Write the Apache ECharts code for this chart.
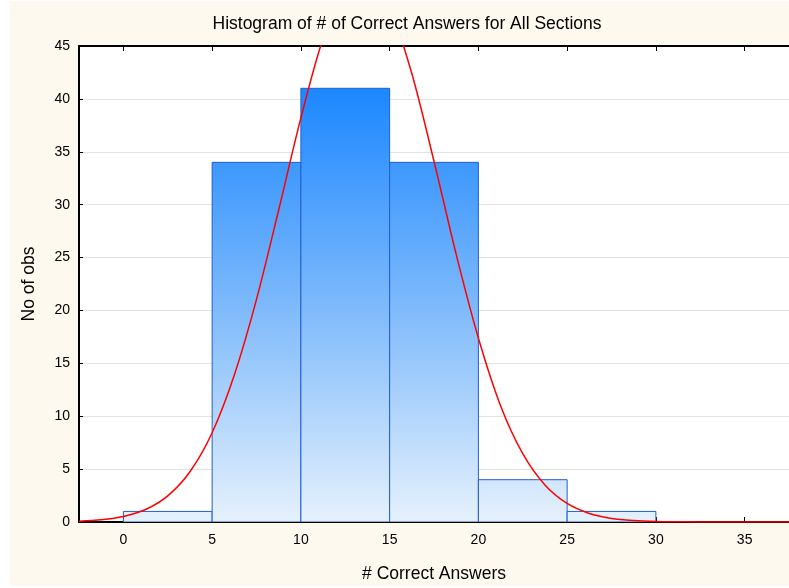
<!DOCTYPE html>
<html>
<head>
<meta charset="utf-8">
<script src="https://cdn.jsdelivr.net/npm/echarts@6/dist/echarts.min.js"></script>
<style>html,body{margin:0;padding:0;background:#fff;}#c{width:789px;height:588px;}</style>
</head>
<body>
<div id="c"></div>
<script>
// Histogram bins (lower edge, upper edge) and counts
var binStart = [0, 5, 10, 15, 20, 25, 30];
var binEnd   = [5, 10, 15, 20, 25, 30, 35];
var counts   = [1, 34, 41, 34, 4, 1, 0];

// Fitted normal curve
var curveX = [-2.5, -1.25, 0, 1.25, 2.5, 3.75, 5, 6.25, 7.5, 8.75, 10, 11.25, 12.5, 13.75, 15, 16.25, 17.5, 18.75, 20, 21.25, 22.5, 23.75, 25, 26.25, 27.5, 28.75, 30, 31.25, 32.5, 33.75, 35, 36.25, 37.5];
var curveY = [0.08, 0.21, 0.52, 1.18, 2.47, 4.75, 8.44, 13.9, 21.05, 29.5, 38.2, 45.7, 50.5, 51.6, 48.6, 42.4, 34.1, 25.3, 17.4, 11.0, 6.46, 3.5, 1.75, 0.81, 0.34, 0.14, 0.05, 0.02, 0.01, 0, 0, 0, 0];

var xTicks = [0, 5, 10, 15, 20, 25, 30, 35];

var titleText = 'Histogram of # of Correct Answers for All Sections';
var xName = '# Correct Answers';
var yName = 'No of obs';

var barData = binStart.map(function (s, i) { return [s, binEnd[i], counts[i]]; });
var curveData = curveX.map(function (x, i) { return [x, curveY[i]]; });
var maxCount = Math.max.apply(null, counts);

var chart = echarts.init(document.getElementById('c'), null, {renderer: 'canvas'});
var font = "'Liberation Sans', Arial, sans-serif";

chart.setOption({
  backgroundColor: '#ffffff',
  animation: false,
  graphic: [
    {type: 'rect', left: 10, top: 1, shape: {width: 779, height: 585}, style: {fill: '#FEF9EE'}, z: -10, silent: true},
    {type: 'text', x: 407, y: 24, style: {text: titleText, fill: '#000', font: '17.5px ' + font, textAlign: 'center', textVerticalAlign: 'middle'}, z: 10}
  ],
  grid: {left: 79, top: 46, right: -2, bottom: 66, show: true, backgroundColor: '#ffffff', borderWidth: 0},
  xAxis: [{
    type: 'value', min: -2.5, max: 37.5, position: 'bottom',
    name: xName, nameLocation: 'middle', nameGap: 43,
    nameTextStyle: {color: '#000', fontSize: 17.5, fontFamily: font},
    axisLine: {show: true, onZero: false, lineStyle: {color: '#000', width: 2}},
    axisTick: {show: true, inside: true, length: 5, lineStyle: {color: '#000'}, customValues: xTicks},
    axisLabel: {color: '#000', fontSize: 14, fontFamily: font, margin: 11, customValues: xTicks},
    splitLine: {show: false}
  }, {
    type: 'value', min: -2.5, max: 37.5, position: 'top',
    axisLine: {show: true, onZero: false, lineStyle: {color: '#000', width: 2}},
    axisTick: {show: true, inside: true, length: 5, lineStyle: {color: '#000'}, customValues: xTicks},
    axisLabel: {show: false},
    splitLine: {show: false}
  }],
  yAxis: {
    type: 'value', min: 0, max: 45, interval: 5,
    name: yName, nameLocation: 'middle', nameGap: 41, nameRotate: 90,
    nameTextStyle: {color: '#000', fontSize: 17.5, fontFamily: font},
    axisLine: {show: true, onZero: false, lineStyle: {color: '#000', width: 2}},
    axisTick: {show: true, inside: true, length: 4, lineStyle: {color: '#000'}},
    axisLabel: {color: '#000', fontSize: 14, fontFamily: font, margin: 9},
    splitLine: {show: true, lineStyle: {color: '#e2e2e2', width: 1}}
  },
  series: [{
    type: 'custom',
    data: barData,
    encode: {x: [0, 1], y: 2},
    clip: true,
    renderItem: function (params, api) {
      var x0 = api.value(0), x1 = api.value(1), v = api.value(2);
      if (v <= 0) return null;
      var p0 = api.coord([x0, v]);
      var p1 = api.coord([x1, 0]);
      var top = api.coord([0, maxCount])[1];
      var base = api.coord([0, 0])[1];
      return {
        type: 'rect',
        shape: {x: p0[0], y: p0[1], width: p1[0] - p0[0], height: p1[1] - p0[1]},
        style: {
          fill: new echarts.graphic.LinearGradient(0, top, 0, base, [
            {offset: 0, color: '#1C87FF'},
            {offset: 0.5, color: '#7DB9FB'},
            {offset: 1, color: '#E6F1FC'}
          ], true),
          stroke: '#1F5FD0',
          lineWidth: 1
        }
      };
    },
    z: 2
  }, {
    type: 'line',
    data: curveData,
    smooth: 0.3,
    showSymbol: false,
    clip: true,
    lineStyle: {color: '#FF0000', width: 1.5},
    z: 3
  }]
});
</script>
</body>
</html>
